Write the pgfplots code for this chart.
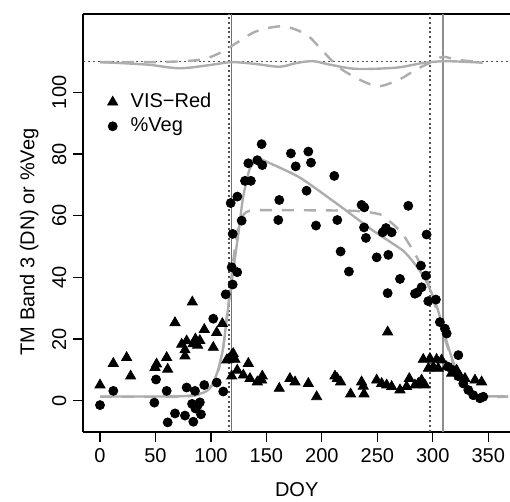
\documentclass[border=0pt]{standalone}
\usepackage{fontspec}
\setmainfont{Liberation Sans}
\usepackage{pgfplots}
\pgfplotsset{compat=1.18}
\usepackage{pgfplotstable}
\usetikzlibrary{calc}
\definecolor{fitgray}{HTML}{ADADAD}
\definecolor{vgray}{HTML}{707070}
\definecolor{dotgray}{HTML}{505050}

\pgfplotstableread{
doy val
0 5.1
12 12.1
24 14.0
27.6 8.0
49.6 10.8
51 11.9
60.1 14.0
61 10.2
67.6 25.3
73.6 18.3
76.6 14.5
76.6 16.5
78.1 19.4
83.2 32.0
84 18.5
86 20
88 18
90 19.5
94.0 23.1
102.1 17.3
105.2 22.1
110.3 25.0
114.2 13.2
115.6 13.4
118.7 14.8
120.1 15.3
121.7 13.4
123.7 9.9
118.7 8.0
129.2 8.3
133.7 12.1
135.2 7.2
141.8 6.1
145.7 6.7
146.3 8.0
161.6 4.0
171.2 7.2
175.8 6.1
187.8 5.6
195.3 1.3
211.8 8.0
213.9 7.2
216.9 6.1
225.9 2.2
235.8 6.1
237.3 4.7
238 2.2
249.4 6.7
253.9 5.6
258.4 5.1
262.9 4.6
259.3 22.3
270.4 3.5
276.4 4.6
278.8 7.2
283.9 5.1
286.9 5.6
289.9 6.7
292.9 5.1
291.4 13.4
297.4 13.7
303.4 13.4
307.9 13.2
296 10.5
300.4 11
304.9 10.5
312.5 11
317 8.9
321.5 9.9
324.5 7.8
329 7.2
338 6.7
344 6.1
}\redtab

\pgfplotstableread{
doy val
0 -1.4
12 3.2
49 -0.6
50.5 6.9
60.1 3.2
61 -7.0
67.6 -4.1
76.6 -4.8
78.1 4.3
84.1 -6.8
83 -1
86 -2.5
88 -1.5
90 -0.5
91 -4.4
85.6 3.2
94 5.1
102.1 26.6
105.2 5.9
111.1 3.0
113.3 34.5
117.8 64.1
119.6 54.1
119.6 37.7
118.7 43.3
123.7 41.7
123.8 66.2
127.7 58.4
130.7 71.3
136 71.3
133.7 77.0
141.8 78.0
146.3 76.4
145.7 83.2
160.7 58.6
161.6 65.1
172.1 80.2
176.4 76.0
186.2 68.1
187.8 80.8
190.2 77.2
194.7 56.8
211.2 72.9
213.9 58.6
216.9 48.4
224.4 41.9
235.8 63.5
238.2 62.7
238 56.2
239.7 52.8
249.4 46.5
254.8 54.6
257.8 56
262.9 54.6
259.9 47.3
259.3 34.9
270.4 39.5
277.9 63.2
283.9 34.7
286 35.1
289.3 43.8
289.9 36.8
293.8 40.6
294.4 53.9
295.9 32.3
302.8 32.8
306.4 25.5
310.9 23.4
312.5 21.8
314 11
318.5 9.9
323 14.8
323 8.0
327.5 5.6
332 3.5
336.5 1.8
342.5 0.8
345.5 1.3
}\vegtab

\begin{document}
\begin{tikzpicture}
\begin{axis}[
    scale only axis,
    width=213.4pt, height=208.9pt,
    xmin=-15, xmax=369.6,
    ymin=-10, ymax=125.4,
    separate axis lines,
    axis x line*=box,
    axis y line*=left,
    axis line style={black, line width=0.9pt},
    xtick={0,50,...,350},
    ytick={0,20,...,100},
    xtick pos=bottom,
    ytick pos=left,
    tick align=outside,
    major tick length=5pt,
    tick style={black, line width=0.6pt},
    /pgf/number format/assume math mode=true,
    tick label style={font=\fontsize{10}{12}\selectfont},
    yticklabel style={rotate=90, anchor=south},
    label style={font=\fontsize{10}{12}\selectfont},
    xlabel={DOY},
    xlabel style={yshift=-3pt},
    ylabel={TM Band 3 (DN) or \%Veg},
    ylabel style={at={(ticklabel cs:0.447)}, xshift=1.5pt},
    legend style={at={(0.042,0.83)}, anchor=north west, draw=none, fill=none,
        font=\fontsize{10}{12}\selectfont, column sep=4.5pt, row sep=-0.5pt},
    legend cell align=left,
]
\coordinate (bl) at (rel axis cs:0,0);
\coordinate (tr) at (rel axis cs:1,1);
% reference lines
\addplot[dotgray, line width=0.7pt, dash pattern=on 1pt off 1.4pt, forget plot] coordinates {(-15,110) (369.6,110)};
\addplot[dotgray, line width=0.7pt, dash pattern=on 1pt off 1.4pt, forget plot] coordinates {(116.3,-10) (116.3,125.4)};
\addplot[dotgray, line width=0.7pt, dash pattern=on 1pt off 1.4pt, forget plot] coordinates {(297.4,-10) (297.4,125.4)};
\addplot[vgray, line width=0.7pt, forget plot] coordinates {(118.7,-10) (118.7,125.4)};
\addplot[vgray!80, line width=0.9pt, forget plot] coordinates {(308.9,-10) (308.9,125.4)};

% fitted curves (near 110)
\addplot[fitgray, line width=1.2pt, smooth, forget plot] coordinates {
(0,109.8) (42,109) (72,107.8) (102,109) (119,109.8) (140,109.2) (162,108.3) (177,109.5)
(192,110.1) (207,109) (231,107.6) (267,108) (291,109.5) (312,110.1) (345,109.6)};
\addplot[fitgray, line width=1.2pt, dash pattern=on 6pt off 5pt, smooth, forget plot] coordinates {
(0,109.8) (50,109.8) (80,110.2) (96,111) (111,113.3) (123,116) (141,119.8) (165,121.4)
(186,118.7) (201,113.3) (216,107.9) (237,103.6) (252,102) (270,104.2) (285,107.4)
(297,109.5) (309,111.5) (321,110.6) (342,109.8)};

% fitted curves (%Veg)
\addplot[fitgray, line width=1.2pt, smooth, tension=0.4, forget plot] coordinates {
(0,1.4) (40,1.4) (76,1.5) (93,2.6) (100,4.5) (106,9.5) (111,17) (114,26) (117,34) (120,42)
(125,55) (129,66) (135,75.2) (143,78.3) (152,77.2) (180,72.4) (210,64.8) (224,61.1)
(246,55.2) (273,48.7) (285,43.8) (293,39.5) (300,34) (305,29) (311,21) (318,13)
(323,8.8) (328,5.5) (338,2.2) (345,1.5) (368,1.4)};
\addplot[fitgray, line width=1.2pt, dash pattern=on 6pt off 5pt, smooth, tension=0.4, forget plot] coordinates {
(0,1.3) (40,1.3) (76,1.3) (93,2.4) (102,5.6) (107,10) (111,17.4) (114,26) (117,35)
(120,45) (123,53) (126,58) (130,60.6) (135,61.6) (150,61.8) (228,61.6) (252,60.5)
(257,59.3) (265,57) (273,54) (284,47.6) (290,43.3) (296,38) (301,32) (306,27)
(311,20) (318,12.5) (323,8.5) (328,5) (338,1.8) (345,1.3) (368,1.3)};

% observations
\addplot[only marks, mark=triangle*, mark size=2.9pt, black] table[x=doy, y=val] {\redtab};
\addlegendentry{VIS−Red}
\addplot[only marks, mark=*, mark size=2.25pt, black] table[x=doy, y=val] {\vegtab};
\addlegendentry{\%Veg}
\end{axis}
\pgfresetboundingbox
\path[use as bounding box] ($(bl)+(-41.7pt,-34.9pt)$) rectangle ($(tr)+(0,7pt)$);
\end{tikzpicture}
\end{document}
